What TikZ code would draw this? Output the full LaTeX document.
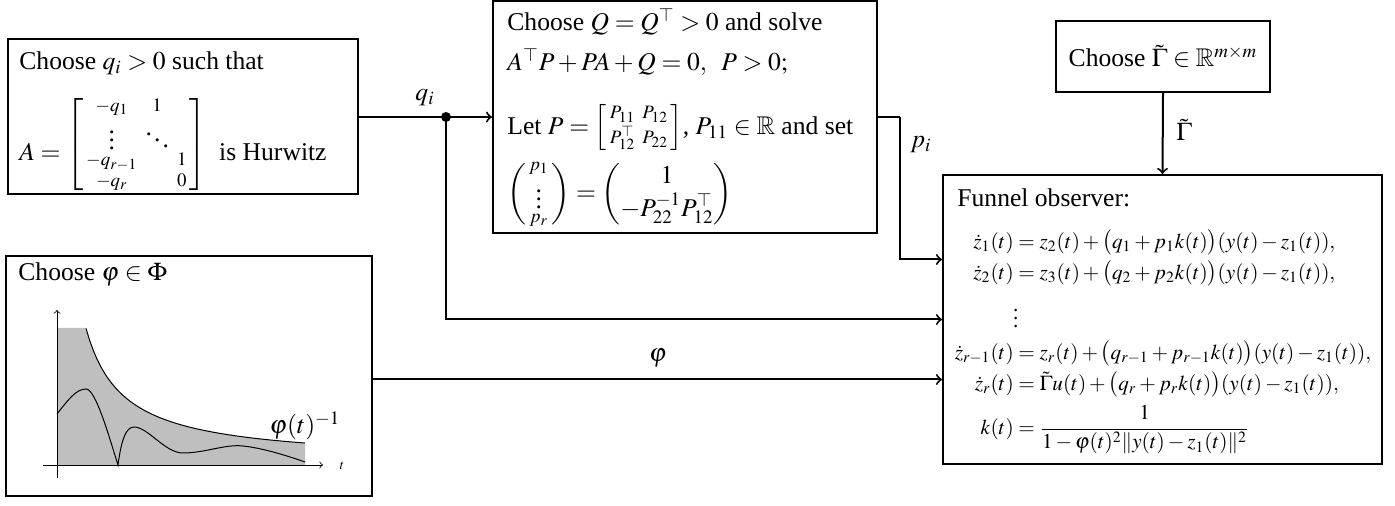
\documentclass[tikz,border=0pt]{standalone}
\usepackage{amsmath,amssymb}
\usepackage{mathptmx}
\usepackage[no-math]{fontspec}
\setmainfont{Liberation Serif}
\begin{document}
\begin{tikzpicture}[x=0.5pt,y=-0.5pt,
  font=\fontsize{12.8}{15}\selectfont,
  box/.style={draw, line width=1pt, inner sep=0pt},
  conn/.style={line width=1pt},
  arr/.style={conn,->},
  tx/.style={inner sep=0pt, anchor=west},
  lbl/.style={inner sep=0pt},
  axis/.style={line width=0.4pt,->}]
\useasboundingbox (0,0) rectangle (1395,506);

% boxes
\node[box, minimum width=175pt, minimum height=77.5pt] (b1) at (183,116.5) {};
\node[box, minimum width=192pt, minimum height=116pt] (b2) at (685,117) {};
\node[box, minimum width=183pt, minimum height=120pt] (b3) at (189,376) {};
\node[box, minimum width=107pt, minimum height=35.5pt] (bg) at (1163,56.5) {Choose $\tilde\Gamma\in\mathbb{R}^{m\times m}$};
\node[box, minimum width=219.5pt, minimum height=144.5pt] (bf) at (1162.5,319.5) {};

% box 1 text
\node[tx] (t1a) at (19,63) {Choose $q_i>0$ such that};
\node[tx, anchor=base west] (t1b) at (19,161) {$A=\raisebox{5pt}{$\left[\begin{smallmatrix} -q_1 & 1 & \\ \vdots & \ddots & \\ -q_{r-1} & & 1\\ -q_r & & 0\end{smallmatrix}\right]$}$\ \ is Hurwitz};

% box 2 text
\node[tx] (t2a) at (507,22) {Choose $Q=Q^\top>0$ and solve};
\node[tx] (t2b) at (507,62) {$A^\top P+PA+Q=0,\;\; P>0;$};
\node[tx] (t2c) at (507,128) {Let $P=\left[\begin{smallmatrix} P_{11} & P_{12}\\ P_{12}^\top & P_{22}\end{smallmatrix}\right]$, $P_{11}\in\mathbb{R}$ and set};
\node[tx] (t2d) at (507,194) {$\left(\begin{smallmatrix} p_1\\ \vdots\\ p_r\end{smallmatrix}\right)=\begin{pmatrix} 1\\ -P_{22}^{-1}P_{12}^\top\end{pmatrix}$};

% box 3 text and plot
\node[tx] (t3a) at (18,275) {Choose $\varphi\in\Phi$};
\fill[gray!50] (57,465) -- (57,328) -- (86,328)
  -- plot[domain=86:305, samples=60] (\x, {462.4 - 4960/(\x-49)})
  -- (305,465) -- cycle;
\draw[line width=0.5pt] plot[domain=86:305, samples=60] (\x, {462.4 - 4960/(\x-49)});
\draw[line width=0.5pt] (57,414) .. controls (68,400) and (76,389) .. (86,389)
  .. controls (96,389) and (110,440) .. (118,465)
  .. controls (121,443) and (125,427) .. (134,427)
  .. controls (148,427) and (165,453) .. (183,453)
  .. controls (205,453) and (225,444) .. (243,446)
  .. controls (262,448) and (285,455) .. (305,462);
\draw[axis] (43,465) -- (323,465);
\draw[axis] (57,478) -- (57,310);
\node[lbl, font=\fontsize{7}{8}\selectfont] (tl) at (342,466) {$t$};
\node[lbl] (phil) at (305,426) {$\varphi(t)^{-1}$};

% funnel observer text
\node[tx] (tfa) at (957,198) {Funnel observer:};
\node[lbl, font=\fontsize{10.6}{13}\selectfont] (tfb) at (1163,342) {$\begin{aligned}
\dot z_1(t) &= z_2(t)+\bigl(q_1+p_1k(t)\bigr)(y(t)-z_1(t)),\\[-0.5pt]
\dot z_2(t) &= z_3(t)+\bigl(q_2+p_2k(t)\bigr)(y(t)-z_1(t)),\\[1pt]
\vdots\mkern-4mu & \\[0pt]
\dot z_{r-1}(t) &= z_r(t)+\bigl(q_{r-1}+p_{r-1}k(t)\bigr)(y(t)-z_1(t)),\\[-0.5pt]
\dot z_r(t) &= \tilde\Gamma u(t)+\bigl(q_r+p_rk(t)\bigr)(y(t)-z_1(t)),\\[0pt]
k(t) &= \frac{1}{1-\varphi(t)^2\|y(t)-z_1(t)\|^2}
\end{aligned}$};

% connectors
\coordinate (j) at (446,117);
\coordinate (pc) at (900,117);
\coordinate (fin1) at ([yshift=30pt]bf.west);
\coordinate (fin3) at ([yshift=-30pt]bf.west);
\draw[arr] (b1.east |- j) -- (b2.west |- j);
\fill (j) circle (5);
\draw[arr] (j) |- (bf.west);
\draw[conn] (b2.east |- pc) -- (pc);
\draw[arr] (pc) |- (fin1);
\draw[arr] (b3.east |- fin3) -- (fin3);
\draw[arr] (bg.south) -- (bf.north);

% connector labels
\node[lbl] (lq) at (425,98) {$q_i$};
\node[lbl] (lp) at (921,145) {$p_i$};
\node[lbl] (lphi) at (658,358) {$\varphi$};
\node[lbl] (lg) at (1184,130) {$\tilde\Gamma$};
\end{tikzpicture}
\end{document}
